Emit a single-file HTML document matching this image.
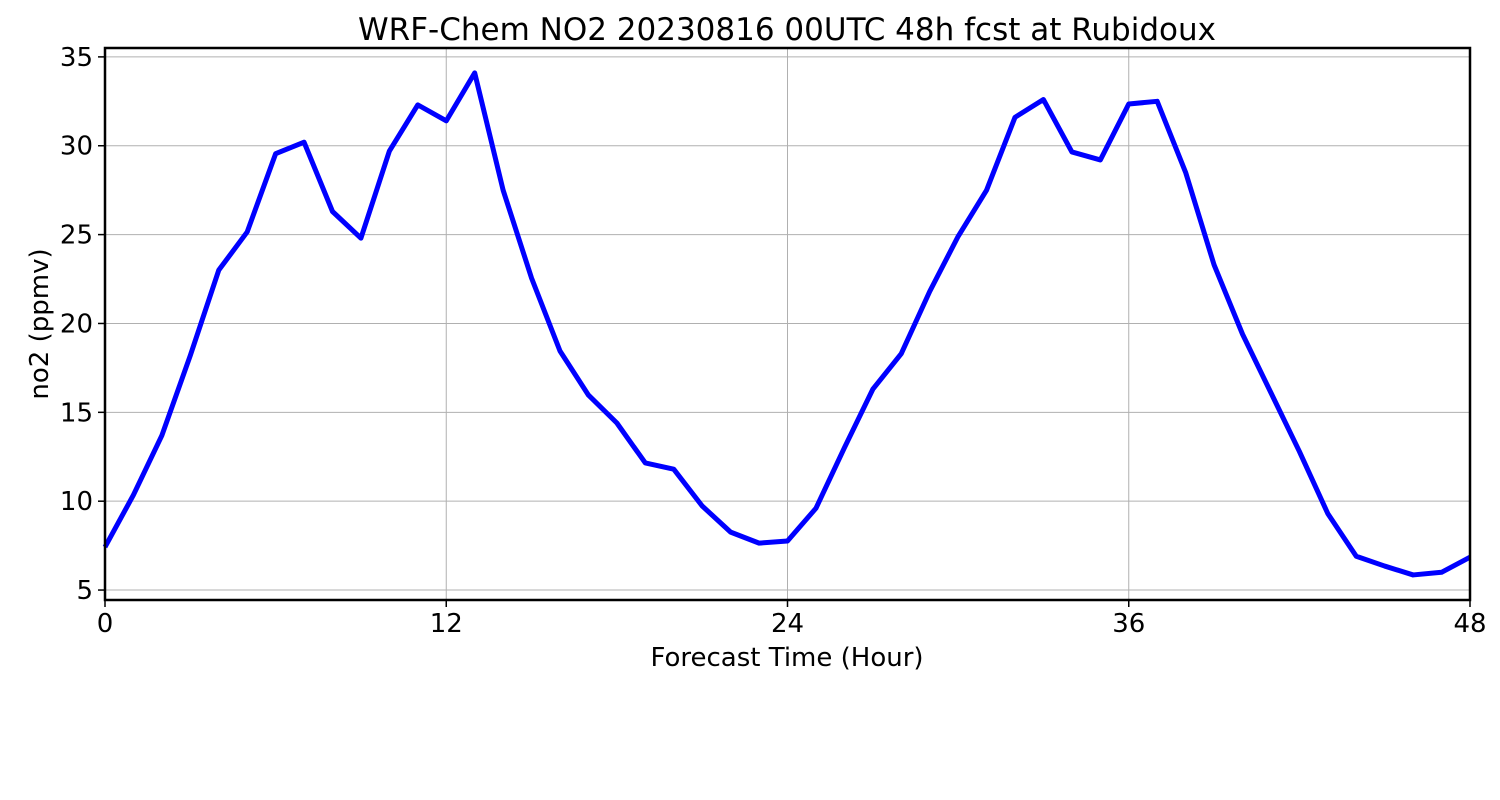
<!DOCTYPE html>
<html><head><meta charset="utf-8"><style>
html,body{margin:0;padding:0;background:#fff;}
svg{display:block;font-family:"DejaVu Sans","Liberation Sans",sans-serif;}
</style></head><body>
<svg id="chart" width="1500" height="800">
<text x="787" y="40" font-size="31" text-anchor="middle">WRF-Chem NO2  20230816 00UTC 48h fcst at Rubidoux</text>
<g id="grid"></g>
<g id="ticks"></g>
<polyline id="line" fill="none" stroke="#0000ff" stroke-width="5" stroke-linejoin="round"/>
<rect x="105" y="48" width="1365" height="552" fill="none" stroke="#000" stroke-width="2.5"/>
<text x="787" y="666" font-size="26" text-anchor="middle">Forecast Time (Hour)</text>
<text transform="translate(48,324) rotate(-90)" font-size="26" text-anchor="middle">no2  (ppmv)</text>
</svg>
<script>
const hours = [];
for (let i = 0; i <= 48; i++) hours.push(i);
const no2 = [7.42,10.35,13.7,18.2,23.0,25.15,29.55,30.2,26.3,24.8,29.7,32.3,31.4,34.1,27.5,22.55,18.45,15.97,14.4,12.15,11.8,9.73,8.26,7.64,7.76,9.6,13.0,16.3,18.3,21.8,24.9,27.5,31.6,32.6,29.65,29.2,32.35,32.5,28.5,23.3,19.4,16.1,12.8,9.3,6.9,6.35,5.85,6.0,6.85];
const xTicks = [0,12,24,36,48];
const yTicks = [5,10,15,20,25,30,35];

const X0=105,X1=1470,Y0=600,Y1=48;
const xMin=0,xMax=48,yMin=4.44,yMax=35.5;
function xs(v){return X0+(v-xMin)/(xMax-xMin)*(X1-X0);}
function ys(v){return Y0-(v-yMin)/(yMax-yMin)*(Y0-Y1);}
const NS="http://www.w3.org/2000/svg";
const grid=document.getElementById('grid'), ticks=document.getElementById('ticks');
function mk(tag,attrs,parent){const e=document.createElementNS(NS,tag);for(const k in attrs)e.setAttribute(k,attrs[k]);parent.appendChild(e);return e;}
xTicks.forEach(t=>{
  const x=xs(t);
  const g=mk('line',{x1:x,x2:x,y1:Y1,y2:Y0,stroke:'#b0b0b0','stroke-width':1},grid);
  
  
  const tk=mk('line',{x1:x,x2:x,y1:Y0,y2:Y0+7,stroke:'#000','stroke-width':1.5},ticks);
  
  
  const lb=mk('text',{x:x,y:Y0+32,'font-size':26,'text-anchor':'middle'},ticks);
  lb.textContent=t;
  
  
});
yTicks.forEach(t=>{
  const y=ys(t);
  const g=mk('line',{x1:X0,x2:X1,y1:y,y2:y,stroke:'#b0b0b0','stroke-width':1},grid);
  
  
  const tk=mk('line',{x1:X0-7,x2:X0,y1:y,y2:y,stroke:'#000','stroke-width':1.5},ticks);
  
  
  const lb=mk('text',{x:X0-12,y:y+9,'font-size':26,'text-anchor':'end'},ticks);
  lb.textContent=t;
  
  
});
document.getElementById('line').setAttribute('points',hours.map((h,i)=>xs(h)+','+ys(no2[i])).join(' '));
</script>
</body></html>
